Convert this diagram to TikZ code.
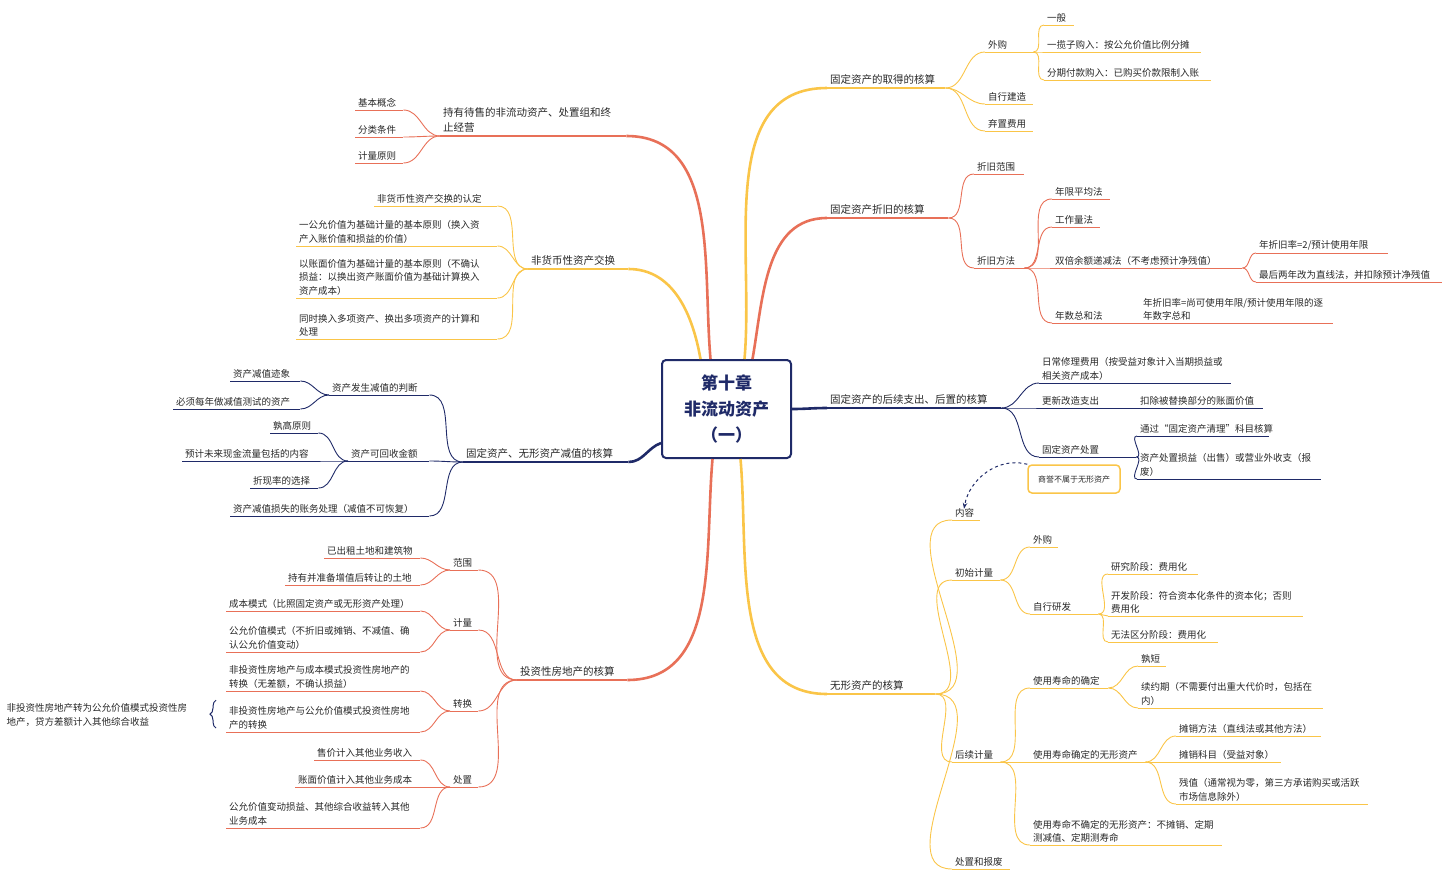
\documentclass[tikz,border=0pt]{standalone}
\usepackage{fontspec}
\setmainfont{Noto Sans CJK SC}
\usetikzlibrary{positioning,decorations.pathreplacing,arrows.meta}
\definecolor{cR}{RGB}{232,112,88}
\definecolor{cY}{RGB}{250,197,72}
\definecolor{cN}{RGB}{31,42,104}
\definecolor{txt}{RGB}{40,40,40}
\tikzset{
  lf/.style={anchor=south west, inner xsep=3pt, inner ysep=2.5pt, align=left, text=txt,
    font=\fontsize{9.5}{13.5}\selectfont,
    append after command={(\tikzlastnode.south west) edge[draw=#1, line width=0.9pt] (\tikzlastnode.south east)}},
  mainlf/.style={anchor=south west, inner xsep=3pt, inner ysep=3pt, align=left, text=txt,
    font=\fontsize{10.5}{15}\selectfont,
    append after command={(\tikzlastnode.south west) edge[draw=#1, line width=2pt] (\tikzlastnode.south east)}},
  br/.style={draw=#1, line width=0.9pt},
  mbr/.style={draw=#1, line width=2.6pt},
}
\begin{document}
\begin{tikzpicture}[x=1pt, y=-1pt]
    \useasboundingbox (0,0) rectangle (1446,879);

    % centre
    \node[draw=cN, line width=2pt, rounded corners=4pt, fill=white, minimum width=129pt, minimum height=98pt, align=center, text=cN, font=\fontsize{17}{26}\selectfont\bfseries] (c) at (726.5,409) {第十章\\非流动资产\\（一）};

    % right side: acquisition
    \node[mainlf=cY, text width=112pt] (qd) at (827,88) {固定资产的取得的核算};
    \node[lf=cY, text width=42pt] (qd1) at (985,52) {外购};
    \node[lf=cY, text width=24pt] (qd11) at (1044,25) {一般};
    \node[lf=cY, text width=151pt] (qd12) at (1044,52) {一揽子购入：按公允价值比例分摊};
    \node[lf=cY, text width=161pt] (qd13) at (1044,80) {分期付款购入：已购买价款限制入账};
    \node[lf=cY, text width=42pt] (qd2) at (985,104) {自行建造};
    \node[lf=cY, text width=42pt] (qd3) at (985,131) {弃置费用};

    % right side: depreciation
    \node[mainlf=cR, text width=115pt] (zj) at (827,218) {固定资产折旧的核算};
    \node[lf=cR, text width=44pt] (zj1) at (974,174) {折旧范围};
    \node[lf=cR, text width=44pt] (zj2) at (974,268) {折旧方法};
    \node[lf=cR, text width=52pt] (zj21) at (1052,199) {年限平均法};
    \node[lf=cR, text width=42pt] (zj22) at (1052,227) {工作量法};
    \node[lf=cR, text width=184pt] (zj23) at (1052,268) {双倍余额递减法（不考虑预计净残值）};
    \node[lf=cR, text width=126pt] (zj231) at (1256,253) {年折旧率=2/预计使用年限};
    \node[lf=cR, text width=180pt] (zj232) at (1256,282) {最后两年改为直线法，并扣除预计净残值};
    \node[lf=cR, text width=80pt] (zj24) at (1052,323) {年数总和法};
    \node[lf=cR, text width=187pt] (zj241) at (1140,323) {年折旧率=尚可使用年限/预计使用年限的逐\\年数字总和};

    % right side: subsequent expenditure
    \node[mainlf=cN, text width=168pt] (hx) at (827,408) {固定资产的后续支出、后置的核算};
    \node[lf=cN, text width=186pt] (hx1) at (1039,383) {日常修理费用（按受益对象计入当期损益或\\相关资产成本）};
    \node[lf=cN, text width=91pt] (hx2) at (1039,408) {更新改造支出};
    \node[lf=cN, text width=120pt] (hx21) at (1137,408) {扣除被替换部分的账面价值};
    \node[lf=cN, text width=91pt] (hx3) at (1039,457) {固定资产处置};
    \node[lf=cN, text width=126pt] (hx31) at (1137,436) {通过“固定资产清理”科目核算};
    \node[lf=cN, text width=178pt] (hx32) at (1137,479) {资产处置损益（出售）或营业外收支（报\\废）};
    \node[draw=cY, line width=1.5pt, rounded corners=4pt, minimum width=92pt, minimum height=28pt, text=txt, font=\fontsize{8}{10}\selectfont] (sy) at (1074,479) {商誉不属于无形资产};

    % right side: intangible assets
    \node[mainlf=cY, text width=102pt] (wx) at (827,694) {无形资产的核算};
    \node[lf=cY, text width=22pt] (wx1) at (952,520) {内容};
    \node[lf=cY, text width=42pt] (wx2) at (952,580) {初始计量};
    \node[lf=cY, text width=22pt] (wx21) at (1030,547) {外购};
    \node[lf=cY, text width=62pt] (wx22) at (1030,614) {自行研发};
    \node[lf=cY, text width=84pt] (wx221) at (1108,574) {研究阶段：费用化};
    \node[lf=cY, text width=189pt] (wx222) at (1108,616) {开发阶段：符合资本化条件的资本化；否则\\费用化};
    \node[lf=cY, text width=104pt] (wx223) at (1108,642) {无法区分阶段：费用化};
    \node[lf=cY, text width=42pt] (wx3) at (952,762) {后续计量};
    \node[lf=cY, text width=72pt] (wx31) at (1030,688) {使用寿命的确定};
    \node[lf=cY, text width=22pt] (wx311) at (1138,666) {孰短};
    \node[lf=cY, text width=179pt] (wx312) at (1138,708) {续约期（不需要付出重大代价时，包括在\\内）};
    \node[lf=cY, text width=109pt] (wx32) at (1030,762) {使用寿命确定的无形资产};
    \node[lf=cY, text width=139pt] (wx321) at (1176,736) {摊销方法（直线法或其他方法）};
    \node[lf=cY, text width=99pt] (wx322) at (1176,762) {摊销科目（受益对象）};
    \node[lf=cY, text width=186pt] (wx323) at (1176,804) {残值（通常视为零，第三方承诺购买或活跃\\市场信息除外）};
    \node[lf=cY, text width=186pt] (wx33) at (1030,845) {使用寿命不确定的无形资产：不摊销、定期\\测减值、定期测寿命};
    \node[lf=cY, text width=52pt] (wx4) at (952,869) {处置和报废};

    % left side: held for sale
    \node[mainlf=cR, text width=180pt] (cy) at (440,136) {持有待售的非流动资产、处置组和终\\止经营};
    \node[lf=cR, text width=42pt] (cy1) at (355,110) {基本概念};
    \node[lf=cR, text width=42pt] (cy2) at (355,137) {分类条件};
    \node[lf=cR, text width=42pt] (cy3) at (355,163) {计量原则};

    % left side: non-monetary exchange
    \node[mainlf=cY, text width=94pt] (fh) at (528,269) {非货币性资产交换};
    \node[lf=cY, text width=117pt] (fh1) at (374,206) {非货币性资产交换的认定};
    \node[lf=cY, text width=195pt] (fh2) at (296,246) {一公允价值为基础计量的基本原则（换入资\\产入账价值和损益的价值）};
    \node[lf=cY, text width=195pt] (fh3) at (296,298) {以账面价值为基础计量的基本原则（不确认\\损益：以换出资产账面价值为基础计算换入\\资产成本）};
    \node[lf=cY, text width=195pt] (fh4) at (296,339) {同时换入多项资产、换出多项资产的计算和\\处理};

    % left side: impairment
    \node[mainlf=cN, text width=159pt] (jz) at (463,462) {固定资产、无形资产减值的核算};
    \node[lf=cN, text width=94pt] (jz1) at (329,395) {资产发生减值的判断};
    \node[lf=cN, text width=64pt] (jz11) at (230,381) {资产减值迹象};
    \node[lf=cN, text width=121pt] (jz12) at (173,409) {必须每年做减值测试的资产};
    \node[lf=cN, text width=75pt] (jz2) at (348,461) {资产可回收金额};
    \node[lf=cN, text width=42pt] (jz21) at (270,433) {孰高原则};
    \node[lf=cN, text width=130pt] (jz22) at (182,461) {预计未来现金流量包括的内容};
    \node[lf=cN, text width=62pt] (jz23) at (250,488) {折现率的选择};
    \node[lf=cN, text width=193pt] (jz3) at (230,516) {资产减值损失的账务处理（减值不可恢复）};

    % left side: investment property
    \node[mainlf=cR, text width=104pt] (tz) at (517,680) {投资性房地产的核算};
    \node[lf=cR, text width=22pt] (tz1) at (450,570) {范围};
    \node[lf=cR, text width=90pt] (tz11) at (324,558) {已出租土地和建筑物};
    \node[lf=cR, text width=129pt] (tz12) at (285,585) {持有并准备增值后转让的土地};
    \node[lf=cR, text width=22pt] (tz2) at (450,630) {计量};
    \node[lf=cR, text width=188pt] (tz21) at (226,611) {成本模式（比照固定资产或无形资产处理）};
    \node[lf=cR, text width=188pt] (tz22) at (226,652) {公允价值模式（不折旧或摊销、不减值、确\\认公允价值变动）};
    \node[lf=cR, text width=22pt] (tz3) at (450,711) {转换};
    \node[lf=cR, text width=188pt] (tz31) at (226,691) {非投资性房地产与成本模式投资性房地产的\\转换（无差额，不确认损益）};
    \node[lf=cR, text width=188pt] (tz32) at (226,732) {非投资性房地产与公允价值模式投资性房地\\产的转换};
    \node[lf=cR, text width=22pt] (tz4) at (450,787) {处置};
    \node[lf=cR, text width=100pt] (tz41) at (314,760) {售价计入其他业务收入};
    \node[lf=cR, text width=119pt] (tz42) at (295,787) {账面价值计入其他业务成本};
    \node[lf=cR, text width=188pt] (tz43) at (226,828) {公允价值变动损益、其他综合收益转入其他\\业务成本};
    \node[anchor=south west, align=left, text=txt, font=\fontsize{9.5}{13.5}\selectfont] (note) at (3,730) {非投资性房地产转为公允价值模式投资性房\\地产，贷方差额计入其他综合收益};

    % main branches
    \draw[mbr=cY] ([xshift=18pt]c.north) to[out=85,in=180] (qd.south west);
    \draw[mbr=cR] ([xshift=26pt]c.north) to[out=80,in=180] (zj.south west);
    \draw[mbr=cN] (c.east) to[out=0,in=180] (hx.south west);
    \draw[mbr=cY] ([xshift=14pt]c.south) to[out=-85,in=180] (wx.south west);
    \draw[mbr=cR] ([xshift=-16pt]c.north) to[out=95,in=0] (cy.south east);
    \draw[mbr=cY] ([xshift=-26pt]c.north) to[out=100,in=0] (fh.south east);
    \draw[mbr=cN] ([yshift=-34pt]c.west) to[out=200,in=0] (jz.south east);
    \draw[mbr=cR] ([xshift=-14pt]c.south) to[out=-95,in=0] (tz.south east);

    % right branches
    \foreach \a/\b in {qd/qd1, qd1/qd11, qd1/qd12, qd1/qd13, qd/qd2, qd/qd3}
        \draw[br=cY] (\a.south east) to[out=0,in=180] (\b.south west);
    \foreach \a/\b in {zj/zj1, zj/zj2, zj2/zj21, zj2/zj22, zj2/zj23, zj2/zj24, zj23/zj231, zj23/zj232, zj24/zj241}
        \draw[br=cR] (\a.south east) to[out=0,in=180] (\b.south west);
    \foreach \a/\b in {hx/hx1, hx/hx2, hx/hx3, hx2/hx21, hx3/hx31, hx3/hx32}
        \draw[br=cN] (\a.south east) to[out=0,in=180] (\b.south west);
    \foreach \a/\b in {wx/wx1, wx/wx2, wx/wx3, wx/wx4, wx2/wx21, wx2/wx22, wx22/wx221, wx22/wx222, wx22/wx223, wx3/wx31, wx3/wx32, wx3/wx33, wx31/wx311, wx31/wx312, wx32/wx321, wx32/wx322, wx32/wx323}
        \draw[br=cY] (\a.south east) to[out=0,in=180] (\b.south west);
    \draw[cN, dashed, line width=1pt, -{Stealth[length=6pt]}] (sy.north west) to[out=165,in=80] ([xshift=12pt,yshift=-3pt]wx1.north west);

    % left branches
    \foreach \a/\b in {cy/cy1, cy/cy2, cy/cy3}
        \draw[br=cR] (\a.south west) to[out=180,in=0] (\b.south east);
    \foreach \a/\b in {fh/fh1, fh/fh2, fh/fh3, fh/fh4}
        \draw[br=cY] (\a.south west) to[out=180,in=0] (\b.south east);
    \foreach \a/\b in {jz/jz1, jz/jz2, jz/jz3, jz1/jz11, jz1/jz12, jz2/jz21, jz2/jz22, jz2/jz23}
        \draw[br=cN] (\a.south west) to[out=180,in=0] (\b.south east);
    \foreach \a/\b in {tz/tz1, tz/tz2, tz/tz3, tz/tz4, tz1/tz11, tz1/tz12, tz2/tz21, tz2/tz22, tz3/tz31, tz3/tz32, tz4/tz41, tz4/tz42, tz4/tz43}
        \draw[br=cR] (\a.south west) to[out=180,in=0] (\b.south east);
    \draw[cN, line width=1pt, decorate, decoration={brace, amplitude=6pt}] ([xshift=-10pt,yshift=4pt]tz32.south west) -- ([xshift=-10pt,yshift=4pt]tz32.north west);
\end{tikzpicture}
\end{document}
